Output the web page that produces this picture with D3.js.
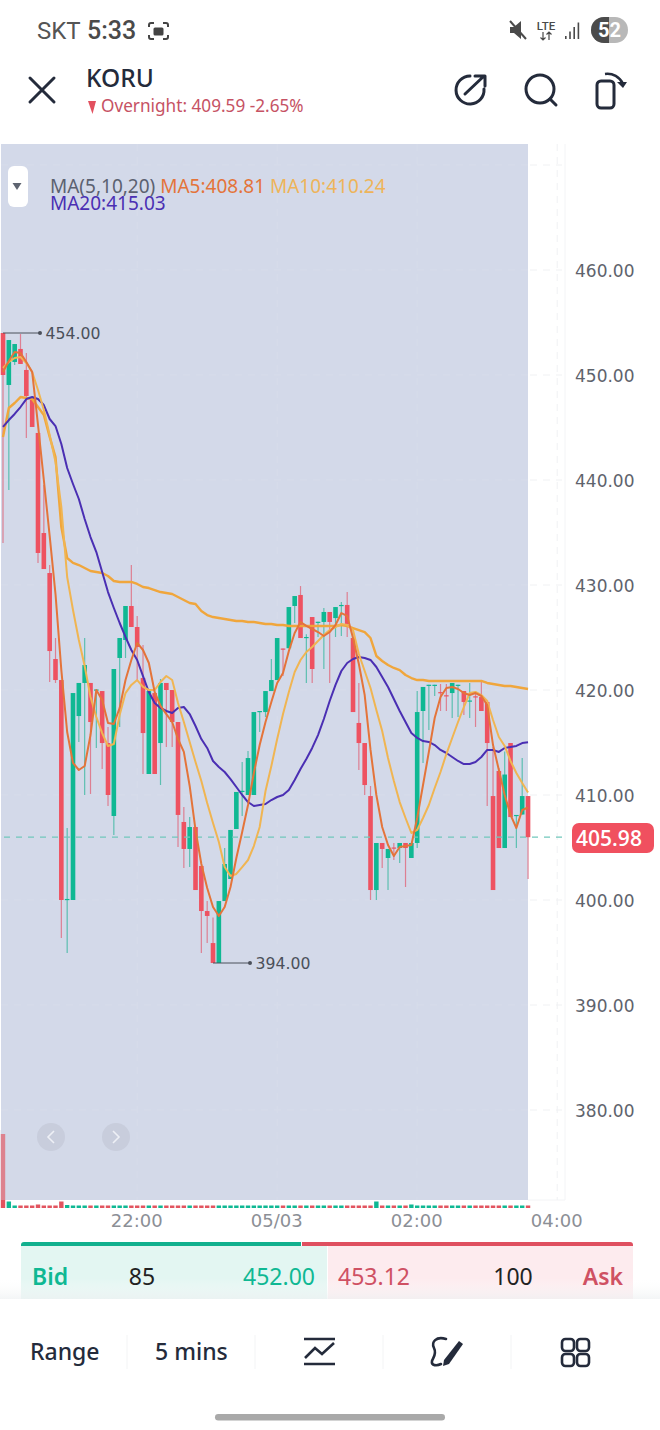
<!DOCTYPE html>
<html>
<head>
<meta charset="utf-8">
<title>KORU</title>
<script src="https://cdn.jsdelivr.net/npm/d3@7"></script>
<style>
  html, body { margin: 0; padding: 0; background: #fff; }
  svg { display: block; }
  text { font-family: "Noto Sans", "Open Sans", sans-serif; }
  .num text, text.num { font-family: "DejaVu Sans", sans-serif; }
</style>
</head>
<body>
<svg id="chart"></svg>
<script>
'use strict';

// 5 min candles
const opens = [
  454,449.05,451.24,452.48,450.48,447.81,444.48,434.95,431.14,422.95,
  420.95,400,400,417.52,420.67,420.67,419.95,419.9,414.95,408,
  423.05,424.76,428,426,421.14,412,419.71,414.95,420.67,420,
  416.95,407.43,404.86,406.95,403.24,398.95,395.9,394,399.9,402,
  406.76,410.3,410,410,417.9,417.9,419.9,420.95,423.95,423.98,
  428,429.05,424.95,426.95,426.4,426.48,427.43,426.85,428,428.1,
  424.95,416.86,414.95,409.9,400.95,405.43,404,405,404.95,405.43,
  404,405.43,418,420.4,420.4,419.8,419.5,419.71,420.4,419.9,
  418.9,419.4,419.33,418.86,409.9,412.29,404.95,414.95,408,408.14,
  409.9
];
const closes = [
  450,453.33,452.95,451.05,448,445.05,433.05,431.52,423.71,420.95,
  400,400.1,419.71,420.67,422.38,416.95,420.05,414.95,410,422,
  424.95,428,426,424.1,415.9,419.9,412,420.67,420,416.95,
  408.1,404.86,406.95,400.95,398.95,398.48,394,399.9,403.43,406.67,
  410.29,410.4,413.52,417.9,418,419.9,420.95,424.95,423.85,427.9,
  428.95,424.95,425.05,422,426.5,427.43,426.48,427.9,428.1,426.29,
  417.9,414.95,410.95,400.95,405.43,404.86,404.86,404.9,405.43,404.95,
  405.43,417.9,420.29,420.5,420.5,419.7,419.4,420.67,420.5,418.86,
  419,419.3,418,414.95,400.95,404.95,411.95,407.9,408.1,409.9,
  405.98
];
const highs = [
  454,453.33,452.95,453.9,452.1,447.81,444.48,439.52,431.9,424.95,
  420.95,406.86,419.71,420.67,424.95,420.67,420.05,419.9,416.48,422,
  424.95,428,431.9,427.05,424.29,419.9,419.71,421.05,420.67,420,
  416.95,408.86,407.9,406.95,403.24,399.9,398.33,399.9,404.95,406.67,
  410.29,413.14,414.19,417.9,418,419.9,422.95,424.95,423.95,427.9,
  428.95,429.9,425.3,426.95,426.5,427.81,427.43,427.9,428.38,429.33,
  424.95,420.67,414.95,410.86,405.43,405.43,404.86,405.43,405.43,405.43,
  405.43,419.9,420.29,420.5,420.5,420.57,420.57,420.67,420.5,419.9,
  420.67,419.81,420.95,418.86,414.57,412.57,414.14,414.95,408.1,413.52,
  409.9
];
const lows = [
  434,439.05,450.95,451.05,444,445.05,432.1,431.52,420.76,420.67,
  396.38,394.95,400,415.05,410,410.1,414.48,412.48,408.95,406.19,
  416.48,423.05,426,420.95,412,412,412,410.95,414.57,414.57,
  405.05,403.05,403.14,400.95,394.95,395.9,394,394,399.9,402,
  406.76,408,410,410,416,417.43,419.9,420.95,421.33,423.98,
  426.38,424.95,420.67,420.67,425.05,422,420.67,425.05,425.14,425.05,
  417.9,412.38,410,400,400,403.05,400.95,403.81,403.52,401.24,
  404,404.95,413.05,416.19,419.43,418,418,417.33,417.43,417.62,
  417.33,416.48,418,408.95,400.95,404.95,404.95,407.9,404.95,408.14,
  402
];
const volumes = [
  37000,3250,1250,1250,1250,1250,1750,1250,1250,1250,
  3250,1500,1250,1250,1250,1250,1250,1250,1250,1250,
  1250,1250,1250,1250,1250,1250,1250,1250,1250,1250,
  1250,1250,1250,1250,1250,1250,1250,1250,1250,1250,
  1250,1250,1250,1250,1250,1250,1250,1250,1250,1250,
  1250,1250,1250,1250,1250,1250,1250,1250,1250,1250,
  1250,1250,1250,1250,3250,1250,1250,1250,1250,1250,
  1750,1250,1250,1250,1250,1250,1250,1250,1250,1250,
  1250,1250,1250,1250,1250,1250,1250,1250,1250,1250,
  1250
];

const ma5 = [
  450.29,451.33,452.19,452.10,451.24,450.29,445.24,440,434.67,429.14,
  421.90,416,413.05,412.38,412.76,415.71,420,419.05,416.86,416.76,
  418.29,420.95,422.86,424.48,423.81,422.57,419.81,418.48,417.71,416.95,
  415.33,414.10,410.86,406.67,403.43,401.14,399.33,398.48,399.33,401.24,
  404,406.48,409.05,412.10,414.76,416.95,418.86,420.67,421.62,423.71,
  425.43,426.48,426.10,425.81,425.52,425.14,425.52,426.19,427.33,427.05,
  424.95,422.48,419.52,414.29,410,406.95,405.24,404.19,405.05,405.14,
  405.24,407.81,410.95,414.10,417.33,419.33,420.19,420.29,420.10,419.71,
  419.52,419.71,419.43,418.57,414.76,412.38,410,408.10,406.86,408.57,
  408.81
];
const ma10 = [
  450.67,451.24,451.62,451.71,451.14,450.29,448.57,446.67,444.29,441.71,
  437.43,430.76,427.62,424.76,422.29,419.33,417.43,415.90,414.67,414.86,
  417.62,419.71,420.48,420.95,420.29,420,420,420.76,421.33,420.95,
  418.76,416.95,415.05,413.14,411.33,409.24,407.33,405.52,403.14,402.29,
  402.48,403.14,403.81,405.14,406.95,410.38,412.76,415.33,417.71,419.81,
  421.71,422.86,423.62,424.10,424.67,425.24,425.71,426,426.29,426.19,
  425.71,423.43,421.81,420.19,418.10,416.10,413.52,411.33,409.33,407.81,
  406.38,406.67,407.81,409.05,410.67,412.19,413.90,415.43,416.95,418.38,
  419.71,419.81,419.52,418.95,417.14,415.52,414.67,413.24,412.10,411.14,
  410.24
];
const ma20 = [
  445.05,445.71,446.29,446.95,447.71,447.90,447.71,447.14,445.81,445.14,
  443.43,441.14,439.62,438.19,436.29,434.57,433.14,431.24,429.33,427.81,
  426.38,425.05,423.81,422.86,421.33,419.81,418.76,418.29,418,417.81,
  418.29,418.38,417.71,416.57,415.33,414.48,413.24,412.67,412.19,411.52,
  410.76,410,409.33,408.95,409.05,409.14,409.52,409.81,410,410.48,
  411.43,412.48,413.43,414.48,415.71,417.24,418.95,420.48,421.81,422.57,
  422.95,423.14,423.05,422.86,422.19,421.24,420.29,419.14,418,416.95,
  415.90,415.43,415.14,415.05,414.76,414.29,414,413.62,413.24,412.95,
  412.95,413.14,413.62,414.29,414.29,414.10,414.48,414.57,414.67,414.95,
  415.03
];
// the thick orange line, it has no entry in the legend
const maLong = [
  444.10,446.86,447.33,447.90,447.81,447.71,446.95,446.19,444.10,442.19,
  435.52,432.57,432.10,431.90,431.62,431.33,431.24,431.14,430.86,430.38,
  430.29,430.29,430.29,430.10,429.81,429.71,429.52,429.33,429.24,429.14,
  428.86,428.57,428.29,428.19,427.52,427.14,426.95,426.86,426.76,426.67,
  426.57,426.57,426.48,426.48,426.38,426.29,426.29,426.19,426.19,426.10,
  426.10,426.10,426.10,426.10,426.10,426.10,426.10,426.10,426.19,426.10,
  425.90,425.71,425.52,424.95,423.24,422.76,422.38,422.10,421.90,421.43,
  421.14,420.95,420.95,420.86,420.86,420.86,420.86,420.86,420.86,420.86,
  420.86,420.86,420.86,420.67,420.57,420.48,420.38,420.38,420.29,420.19,
  420.10
];

const priceTicks = [460, 450, 440, 430, 420, 410, 400, 390, 380];
const timeTickIndex = [23, 47, 71, 95];
const timeTickLabels = ["22:00", "05/03", "02:00", "04:00"];
const lastPrice = 405.98;
const maxMark = { index: 0, price: 454 };
const minMark = { index: 36, price: 394 };

const width = 660, height = 1430;
const green = "#0fb893", red = "#ee5261", panelFill = "#d3d9e9";
const ink = "#242b3b";

const svg = d3.select("#chart").attr("width", width).attr("height", height);

const x = d3.scaleLinear().domain([0, 95]).range([3, 557.2]);
const y = d3.scaleLinear().domain([380, 460]).range([1110, 270]);
const yVol = d3.scaleLinear().domain([0, 37000]).range([1208, 1134]);

// chart frame
svg.append("rect").attr("x", 1).attr("y", 144).attr("width", 527).attr("height", 1056).attr("fill", panelFill);
svg.append("line").attr("x1", 565).attr("x2", 565).attr("y1", 144).attr("y2", 1200).attr("stroke", "#f3f4f6");
svg.append("line").attr("x1", 528).attr("x2", 565).attr("y1", 1200).attr("y2", 1200).attr("stroke", "#f3f4f6");

// grid is only just visible, the shaded part almost hides it
const grid = svg.append("g").attr("fill", "none").attr("stroke-dasharray", "7 6");
grid.selectAll(".gy").data([470].concat(priceTicks)).enter().append("line")
  .attr("x1", 1).attr("x2", 528)
  .attr("y1", d => y(d)).attr("y2", d => y(d))
  .attr("stroke", "#d7dcea");
grid.selectAll(".gyr").data([470].concat(priceTicks)).enter().append("line")
  .attr("x1", 530).attr("x2", 562)
  .attr("y1", d => y(d)).attr("y2", d => y(d))
  .attr("stroke", "#f0f1f3");
grid.selectAll(".gx").data(timeTickIndex.slice(0, 3)).enter().append("line")
  .attr("x1", d => x(d)).attr("x2", d => x(d))
  .attr("y1", 144).attr("y2", 1200)
  .attr("stroke", "#d7dcea");
grid.append("line").attr("x1", x(95)).attr("x2", x(95)).attr("y1", 144).attr("y2", 1200)
  .attr("stroke", "#f0f1f3");

// axes
const yAxis = svg.append("g").attr("class", "num").attr("transform", "translate(568,1)")
  .call(d3.axisRight(y).tickValues(priceTicks).tickFormat(d3.format(".2f")).tickSize(0).tickPadding(7));
yAxis.select(".domain").remove();
yAxis.selectAll("text").style("font-size", "17px").attr("fill", "#5e636c");

const xAxis = svg.append("g").attr("class", "num").attr("transform", "translate(-1,1209)")
  .call(d3.axisBottom(x).tickValues(timeTickIndex).tickFormat((d, i) => timeTickLabels[i]).tickSize(0).tickPadding(5));
xAxis.select(".domain").remove();
xAxis.selectAll("text").style("font-size", "18px").attr("fill", "#8c8f96");

// volume
const idx = d3.range(closes.length);
svg.append("g").selectAll("rect").data(idx).enter().append("rect")
  .attr("x", i => x(i) - 2.2).attr("width", 4.4)
  .attr("y", i => yVol(volumes[i]))
  .attr("height", i => yVol(0) - yVol(volumes[i]))
  .attr("fill", i => closes[i] < opens[i] ? "#e2545f" : green);
svg.append("rect").attr("x", 0).attr("y", 1130).attr("width", 528).attr("height", 70)
  .attr("fill", panelFill).attr("opacity", 0.35);

// candles
const candles = svg.append("g").selectAll("g").data(idx).enter().append("g");
candles.append("line")
  .attr("x1", i => x(i)).attr("x2", i => x(i))
  .attr("y1", i => y(highs[i])).attr("y2", i => y(lows[i]))
  .attr("stroke", i => closes[i] < opens[i] ? "#dd7f92" : "#5cbfb0")
  .attr("stroke-width", 1.2);
candles.append("rect")
  .attr("x", i => x(i) - 2.3).attr("width", 4.6)
  .attr("y", i => y(Math.max(opens[i], closes[i])))
  .attr("height", i => Math.max(1.2, Math.abs(y(opens[i]) - y(closes[i]))))
  .attr("fill", i => closes[i] < opens[i] ? red : green);

// last price
svg.append("line").attr("x1", 4).attr("x2", 564)
  .attr("y1", y(lastPrice)).attr("y2", y(lastPrice))
  .attr("stroke", "#72c7bc").attr("stroke-width", 1.2).attr("stroke-dasharray", "6 6");

// moving averages
const maLine = d3.line().x((d, i) => x(i)).y(d => y(d));
const maSeries = [
  { values: maLong, color: "#f0a63c", w: 2.4 },
  { values: ma20, color: "#4a2fb3", w: 2 },
  { values: ma10, color: "#f0b552", w: 2 },
  { values: ma5, color: "#e4743a", w: 2 }
];
svg.append("g").attr("fill", "none").selectAll("path").data(maSeries).enter().append("path")
  .attr("d", d => maLine(d.values))
  .attr("stroke", d => d.color)
  .attr("stroke-width", d => d.w)
  .attr("stroke-linejoin", "round");

// high / low marks
[{ m: maxMark, len: 37 }, { m: minMark, len: 37 }].forEach(({ m, len }) => {
  const mx = x(m.index), my = y(m.price);
  svg.append("line").attr("x1", mx).attr("x2", mx + len).attr("y1", my).attr("y2", my)
    .attr("stroke", "#4b505a").attr("stroke-width", 1);
  svg.append("circle").attr("cx", mx + len).attr("cy", my).attr("r", 2).attr("fill", "#4b505a");
  svg.append("text").attr("class", "num").attr("x", mx + len + 5.5).attr("y", my + 6)
    .attr("fill", "#4b505a").style("font-size", "15.7px").text(m.price.toFixed(2));
});

// last price tag
svg.append("rect").attr("x", 572).attr("y", 823).attr("width", 82).attr("height", 30).attr("rx", 7)
  .attr("fill", "#f0505f");
svg.append("text").attr("x", 609).attr("y", 845.5).attr("text-anchor", "middle")
  .attr("fill", "#fff").attr("font-weight", 600).style("font-family", "Open Sans").style("font-size", "21px").text(lastPrice.toFixed(2));

// legend, the two rows sit tight like in the app
const legendRow = svg.append("text").attr("x", 50).attr("y", 192.5).style("font-size", "19px");
legendRow.append("tspan").attr("fill", "#5b6170").text("MA(5,10,20) ");
legendRow.append("tspan").attr("fill", "#e4743a").text("MA5:408.81 ");
legendRow.append("tspan").attr("fill", "#eeb45a").text("MA10:410.24");
svg.append("text").attr("x", 50).attr("y", 210).attr("fill", "#4a2fb3").style("font-size", "19px").text("MA20:415.03");

// collapse button and scroll arrows
svg.append("rect").attr("x", 8).attr("y", 166).attr("width", 20).attr("height", 41).attr("rx", 6).attr("fill", "#fff");
svg.append("path").attr("d", "M12.5 183H21.5L17 190Z").attr("fill", "#5e6470");
[[51, "M54 1131L48 1137L54 1143"], [116, "M113 1131L119 1137L113 1143"]].forEach(([cx, d]) => {
  svg.append("circle").attr("cx", cx).attr("cy", 1137).attr("r", 14).attr("fill", "#c8cddc");
  svg.append("path").attr("d", d).attr("fill", "none").attr("stroke", "#eef0f6").attr("stroke-width", 1.6);
});

// status bar
svg.append("text").attr("x", 37).attr("y", 39).attr("fill", "#555").style("font-family", "Roboto").style("font-size", "24px").text("SKT");
svg.append("text").attr("x", 87).attr("y", 39).attr("fill", "#4a4a4a").style("font-family", "Roboto").attr("font-weight", 500).style("font-size", "25px").text("5:33");
svg.append("path").attr("fill", "none").attr("stroke", "#444").attr("stroke-width", 2)
  .attr("d", "M149 27V25Q149 23 151 23H154M163 23H166Q168 23 168 25V27M149 35V37Q149 39 151 39H154M163 39H166Q168 39 168 37V35");
svg.append("rect").attr("x", 153.5).attr("y", 27.5).attr("width", 10).attr("height", 8).attr("rx", 1.5).attr("fill", "#444");
svg.append("path").attr("fill", "#4a4a4a").attr("d", "M510 27H514L521 21V39L514 33H510Z");
svg.append("line").attr("x1", 510).attr("y1", 21).attr("x2", 526).attr("y2", 39).attr("stroke", "#4a4a4a").attr("stroke-width", 2);
svg.append("text").attr("x", 546).attr("y", 30).attr("text-anchor", "middle").attr("fill", "#4a4a4a").style("font-family", "Roboto").style("font-size", "11.5px").attr("font-weight", 500).text("LTE");
svg.append("path").attr("fill", "none").attr("stroke", "#4a4a4a").attr("stroke-width", 1.2)
  .attr("d", "M543 32V40M540.5 37.5L543 40L545.5 37.5M549 40V32M546.5 34.5L549 32L551.5 34.5");
svg.append("g").attr("fill", "#4a4a4a").selectAll("rect").data([0, 1, 2, 3]).enter().append("rect")
  .attr("x", d => 565 + d * 4.2).attr("width", 1.6)
  .attr("y", d => 36 - d * 4.5).attr("height", d => 3 + d * 4.5);
svg.append("rect").attr("x", 591).attr("y", 17).attr("width", 37).attr("height", 26).attr("rx", 13).attr("fill", "#b8b8b8");
svg.append("path").attr("d", "M609 17H604A13 13 0 0 0 604 43H609Z").attr("fill", "#4b4b4b");
svg.append("text").attr("x", 609.5).attr("y", 37).attr("text-anchor", "middle").attr("fill", "#fff").attr("font-weight", 700).style("font-family", "Roboto").style("font-size", "20px").text("52");

// header
svg.append("path").attr("fill", "none").attr("stroke", ink).attr("stroke-width", 3).attr("stroke-linecap", "round")
  .attr("d", "M30 78L54 102M54 78L30 102");
svg.append("text").attr("x", 86).attr("y", 87).attr("fill", ink).style("font-size", "24.5px").attr("font-weight", 500).text("KORU");
svg.append("path").attr("d", "M88 101H96L92.5 114Z").attr("fill", "#e2505f");
svg.append("text").attr("x", 101).attr("y", 112).attr("fill", "#c65264").style("font-size", "17.2px").text("Overnight: 409.59 -2.65%");
svg.append("path").attr("fill", "none").attr("stroke", ink).attr("stroke-width", 3).attr("stroke-linecap", "round").attr("stroke-linejoin", "round")
  .attr("d", "M484 89A14 14 0 1 1 470 76M465 94L484 76M475 76H485V86");
svg.append("circle").attr("cx", 540).attr("cy", 89).attr("r", 14).attr("fill", "none").attr("stroke", ink).attr("stroke-width", 3);
svg.append("line").attr("x1", 550).attr("y1", 99).attr("x2", 556).attr("y2", 105).attr("stroke", ink).attr("stroke-width", 3).attr("stroke-linecap", "round");
svg.append("rect").attr("x", 597).attr("y", 81).attr("width", 17).attr("height", 27).attr("rx", 4).attr("fill", "none").attr("stroke", ink).attr("stroke-width", 3);
svg.append("path").attr("fill", "none").attr("stroke", ink).attr("stroke-width", 2.5).attr("d", "M605 74A17 17 0 0 1 623 84");
svg.append("path").attr("fill", ink).attr("d", "M617 82H627L623 88Z");

// bid / ask strip
const fade = svg.append("defs").append("linearGradient").attr("id", "fade").attr("x1", 0).attr("x2", 0).attr("y1", 0).attr("y2", 1);
fade.append("stop").attr("offset", 0).attr("stop-color", "#fff").attr("stop-opacity", 0);
fade.append("stop").attr("offset", 1).attr("stop-color", "#eef1f2").attr("stop-opacity", 0.7);
svg.append("rect").attr("x", 21).attr("y", 1246).attr("width", 306).attr("height", 53).attr("fill", "#e3f6f2");
svg.append("rect").attr("x", 328).attr("y", 1246).attr("width", 305).attr("height", 53).attr("fill", "#fdebee");
svg.append("rect").attr("x", 0).attr("y", 1278).attr("width", 660).attr("height", 21).attr("fill", "url(#fade)");
svg.append("path").attr("d", "M21 1246V1245Q21 1242 24 1242H301V1246Z").attr("fill", "#12b08e");
svg.append("path").attr("d", "M302 1246V1242H630Q633 1242 633 1245V1246Z").attr("fill", "#df5060");
const quote = [
  ["Bid", 32, "start", green, 600], ["85", 142, "middle", "#222", 400], ["452.00", 315, "end", green, 400],
  ["453.12", 338, "start", "#cf5163", 400], ["100", 513, "middle", "#222", 400], ["Ask", 623, "end", "#cf5163", 600]
];
svg.append("g").selectAll("text").data(quote).enter().append("text")
  .attr("x", d => d[1]).attr("y", 1285).attr("text-anchor", d => d[2])
  .attr("fill", d => d[3]).attr("font-weight", d => d[4]).style("font-size", "23px").text(d => d[0]);

// bottom toolbar
svg.append("text").attr("x", 30).attr("y", 1360).attr("fill", ink).style("font-size", "23px").attr("font-weight", 500).text("Range");
svg.append("text").attr("x", 155).attr("y", 1360).attr("fill", ink).style("font-size", "23px").attr("font-weight", 500).text("5 mins");
svg.append("g").selectAll("line").data([127, 255, 383, 511]).enter().append("line")
  .attr("x1", d => d).attr("x2", d => d).attr("y1", 1335).attr("y2", 1369).attr("stroke", "#f3f4f5");
svg.append("path").attr("fill", "none").attr("stroke", ink).attr("stroke-width", 2.6)
  .attr("d", "M304 1339H335M304 1364H335M305 1358L315 1348L322 1354L334 1343");
svg.append("path").attr("fill", "none").attr("stroke", ink).attr("stroke-width", 2.6).attr("stroke-linecap", "round")
  .attr("d", "M446 1339C436 1336 431 1342 434 1348C437 1354 433 1358 432 1361C431 1366 437 1366 441 1364");
svg.append("path").attr("fill", ink).attr("d", "M459 1341L463 1344L449 1364L443 1366L444 1360Z");
svg.append("g").attr("fill", "none").attr("stroke", ink).attr("stroke-width", 2.6)
  .selectAll("rect").data([[562, 1339], [577, 1339], [562, 1354], [577, 1354]]).enter().append("rect")
  .attr("x", d => d[0]).attr("y", d => d[1]).attr("width", 12).attr("height", 12).attr("rx", 3.5);
svg.append("rect").attr("x", 215).attr("y", 1414).attr("width", 230).attr("height", 6.5).attr("rx", 3.2).attr("fill", "#a9a9a9");
</script>
</body>
</html>
